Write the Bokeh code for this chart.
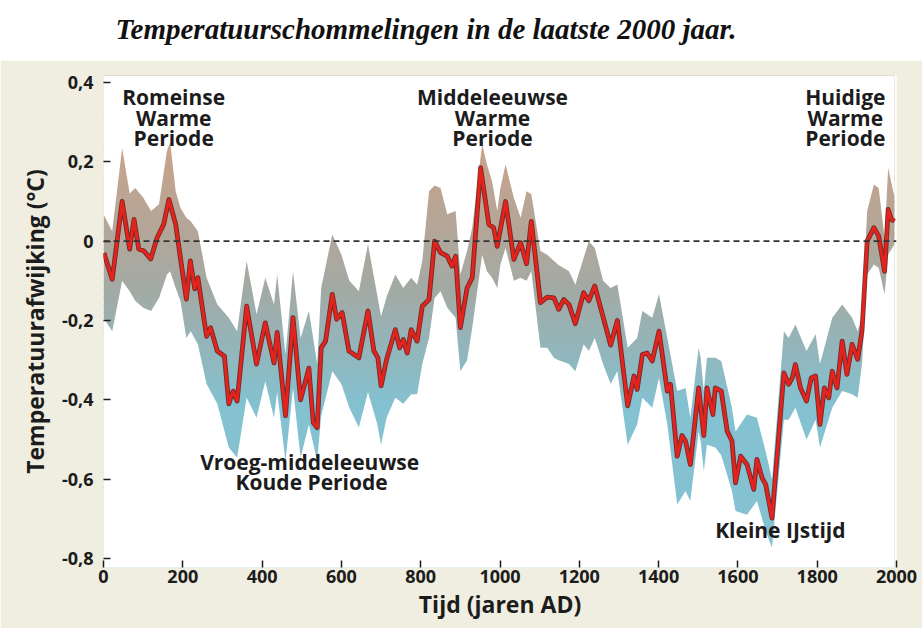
import numpy as np
from bokeh.plotting import figure
from bokeh.layouts import column
from bokeh.models import (ColumnDataSource, FixedTicker, CustomJSTickFormatter,
                          Span, Range1d, BoxAnnotation)
from bokeh.core.properties import value
from bokeh.embed import file_html
from bokeh.resources import INLINE

# ---------------- data ----------------
line_year = [1, 22, 47, 66, 77, 89, 102, 119, 135, 152, 165, 182, 194, 209, 219, 230, 238,
             260, 270, 287, 305, 316, 327, 337, 361, 386, 408, 430, 438, 459, 478, 497,
             518, 529, 539, 549, 560, 577, 588, 602, 619, 644, 667, 682, 692, 700, 714,
             736, 747, 756, 766, 776, 791, 804, 821, 835, 850, 867, 879, 888, 900, 917,
             930, 951, 972, 984, 993, 1014, 1035, 1052, 1067, 1079, 1102, 1119, 1136,
             1148, 1161, 1174, 1190, 1211, 1224, 1239, 1279, 1296, 1322, 1338, 1346,
             1359, 1371, 1384, 1401, 1422, 1430, 1447, 1459, 1468, 1480, 1501, 1514,
             1522, 1537, 1543, 1558, 1573, 1585, 1594, 1607, 1623, 1640, 1648, 1661,
             1670, 1686, 1716, 1728, 1737, 1745, 1758, 1773, 1785, 1796, 1807, 1818,
             1829, 1838, 1850, 1863, 1875, 1888, 1902, 1913, 1926, 1943, 1955, 1970,
             1979, 1987, 1995]
line_temp = [-0.03, -0.096, 0.10, -0.02, 0.055, -0.02, -0.025, -0.045, 0.008, 0.043, 0.105,
             0.043, -0.042, -0.146, -0.05, -0.12, -0.092, -0.24, -0.218, -0.277, -0.29,
             -0.41, -0.378, -0.403, -0.164, -0.31, -0.206, -0.307, -0.23, -0.44, -0.193,
             -0.40, -0.32, -0.458, -0.47, -0.269, -0.252, -0.134, -0.197, -0.18, -0.277,
             -0.294, -0.176, -0.277, -0.294, -0.365, -0.298, -0.223, -0.269, -0.248,
             -0.282, -0.223, -0.252, -0.164, -0.147, 0.0, -0.029, -0.038, -0.063, -0.038,
             -0.218, -0.118, -0.092, 0.185, 0.042, 0.034, -0.013, 0.10, -0.046, -0.004,
             -0.057, 0.05, -0.155, -0.141, -0.143, -0.172, -0.147, -0.16, -0.208, -0.13,
             -0.15, -0.113, -0.262, -0.20, -0.415, -0.34, -0.374, -0.286, -0.282, -0.302,
             -0.227, -0.378, -0.361, -0.542, -0.49, -0.504, -0.563, -0.37, -0.49, -0.37,
             -0.437, -0.37, -0.378, -0.479, -0.504, -0.609, -0.542, -0.563, -0.626, -0.55,
             -0.597, -0.613, -0.698, -0.332, -0.361, -0.345, -0.311, -0.37, -0.403,
             -0.345, -0.34, -0.462, -0.37, -0.395, -0.328, -0.37, -0.252, -0.336, -0.26,
             -0.298, -0.227, 0.0, 0.034, 0.013, -0.076, 0.08, 0.055, 0.05]

band_year = [0, 22, 47, 66, 80, 100, 120, 140, 160, 168, 182, 194, 209, 220, 238, 260, 287,
             316, 337, 361, 386, 408, 430, 438, 459, 478, 497, 518, 539, 549, 577, 600,
             620, 644, 667, 690, 700, 714, 736, 756, 776, 791, 804, 821, 835, 850, 867,
             888, 900, 917, 930, 955, 967, 980, 993, 1001, 1014, 1035, 1052, 1067, 1079,
             1102, 1119, 1136, 1148, 1174, 1190, 1211, 1224, 1239, 1260, 1279, 1296, 1322,
             1346, 1359, 1384, 1401, 1422, 1447, 1468, 1480, 1501, 1506, 1514, 1522, 1543,
             1558, 1585, 1594, 1623, 1648, 1670, 1686, 1716, 1728, 1745, 1773, 1796, 1807,
             1838, 1863, 1888, 1902, 1913, 1926, 1943, 1955, 1970, 1979, 1995]
band_upper = [0.068, 0.025, 0.235, 0.12, 0.134, 0.11, 0.076, 0.093, 0.227, 0.25, 0.126,
              0.084, 0.059, 0.05, 0.025, -0.092, -0.16, -0.193, -0.227, -0.05, -0.185,
              -0.092, -0.16, -0.084, -0.286, -0.076, -0.244, -0.176, -0.31, -0.118, 0.017,
              -0.034, -0.10, -0.126, -0.008, -0.134, -0.19, -0.14, -0.084, -0.118, -0.092,
              -0.11, -0.05, 0.126, 0.14, 0.134, 0.068, 0.076, -0.084, -0.025, 0.034, 0.244,
              0.193, 0.151, 0.076, 0.134, 0.193, 0.109, 0.059, 0.126, 0.118, -0.025,
              -0.034, -0.05, -0.06, -0.076, -0.11, -0.042, 0.0, -0.017, -0.10, -0.118,
              -0.109, -0.269, -0.244, -0.176, -0.193, -0.134, -0.244, -0.378, -0.37,
              -0.445, -0.269, -0.294, -0.378, -0.294, -0.294, -0.302, -0.42, -0.48, -0.437,
              -0.445, -0.53, -0.60, -0.227, -0.244, -0.21, -0.277, -0.235, -0.31, -0.193,
              -0.16, -0.193, -0.227, -0.193, 0.076, 0.143, 0.134, 0.008, 0.185, 0.11]
band_lower = [-0.194, -0.227, -0.10, -0.126, -0.15, -0.168, -0.176, -0.143, -0.084, -0.076,
              -0.118, -0.15, -0.244, -0.227, -0.26, -0.36, -0.41, -0.52, -0.546, -0.395,
              -0.445, -0.353, -0.445, -0.38, -0.555, -0.37, -0.546, -0.462, -0.555, -0.44,
              -0.328, -0.36, -0.42, -0.47, -0.38, -0.46, -0.513, -0.445, -0.395, -0.41,
              -0.386, -0.386, -0.31, -0.244, -0.143, -0.126, -0.168, -0.193, -0.328, -0.30,
              -0.218, -0.034, -0.076, -0.092, -0.118, -0.059, -0.017, -0.10, -0.092, -0.10,
              -0.076, -0.269, -0.269, -0.294, -0.30, -0.31, -0.328, -0.26, -0.277, -0.244,
              -0.31, -0.36, -0.328, -0.513, -0.462, -0.395, -0.42, -0.345, -0.462, -0.664,
              -0.63, -0.655, -0.48, -0.504, -0.58, -0.513, -0.52, -0.54, -0.63, -0.68,
              -0.69, -0.655, -0.73, -0.773, -0.45, -0.45, -0.42, -0.50, -0.45, -0.52,
              -0.42, -0.378, -0.386, -0.395, -0.31, -0.084, -0.059, -0.067, -0.134, -0.034,
              -0.008]

x_ticks = [0, 200, 400, 600, 800, 1000, 1200, 1400, 1600, 1800, 2000]
y_ticks = [-0.8, -0.6, -0.4, -0.2, 0.0, 0.2, 0.4]

title_text = "Temperatuurschommelingen in de laatste 2000 jaar."
x_label = "Tijd (jaren AD)"
y_label = "Temperatuurafwijking (°C)"

# period labels: (text, year, temperature at baseline)
period_labels = [
    ("Romeinse", 177, 0.363), ("Warme", 177, 0.311), ("Periode", 177, 0.259),
    ("Middeleeuwse", 981, 0.363), ("Warme", 981, 0.311), ("Periode", 981, 0.259),
    ("Huidige", 1871, 0.363), ("Warme", 1871, 0.311), ("Periode", 1871, 0.259),
    ("Vroeg-middeleeuwse", 520, -0.557), ("Koude Periode", 525, -0.608),
    ("Kleine IJstijd", 1707, -0.727),
]

# ---------------- styling ----------------
FONT = "Open Sans"
DARK = "#1c1c1c"
PANEL = "#efeee0"
Y0, Y1 = -0.8227, 0.4176
FRAME_W, FRAME_H = 793, 492

# ---------------- title strip ----------------
# (its frame gets aligned with the chart frame below, so its x range is in pixels
#  measured from the chart frame's left edge)
tf = figure(width=922, height=60, x_range=Range1d(0, FRAME_W), y_range=Range1d(0, 60),
            x_axis_type=None, y_axis_type=None, title=None,
            toolbar_location=None, output_backend="svg",
            min_border=0, min_border_left=0, min_border_right=0,
            min_border_top=0, min_border_bottom=0, outline_line_color=None)
tf.grid.visible = False
tf.background_fill_color = "white"
tf.border_fill_color = "white"
tf.text(x=[12], y=[32], text=[title_text], text_font=value("Liberation Serif"),
        text_font_style="bold italic", text_font_size="29px",
        text_baseline="alphabetic", text_align="left", text_color="#111111")

# ---------------- main chart ----------------
p = figure(frame_width=FRAME_W, frame_height=FRAME_H,
           x_range=Range1d(0, 2000), y_range=Range1d(Y0, Y1),
           toolbar_location=None, output_backend="svg",
           min_border_left=103, min_border_right=26, min_border_top=15,
           min_border_bottom=61, outline_line_color=None)
p.background_fill_color = "white"
p.border_fill_color = PANEL
p.grid.visible = False

by = np.array(band_year, dtype=float)
bu = np.array(band_upper)
bl = np.array(band_lower)

# vertical colour gradient (tan at top, grey middle, teal bottom) as background strips
stops_y = [0.22, -0.12, -0.42]
stops_c = [(200, 163, 140), (163, 170, 164), (132, 194, 210)]
edges = np.linspace(Y0, Y1, 63)
for a, b in zip(edges[:-1], edges[1:]):
    m = 0.5 * (a + b)
    if m >= stops_y[0]:
        c = stops_c[0]
    elif m >= stops_y[1]:
        t = (stops_y[0] - m) / (stops_y[0] - stops_y[1])
        c = tuple(int(stops_c[0][k] + t * (stops_c[1][k] - stops_c[0][k])) for k in range(3))
    elif m >= stops_y[2]:
        t = (stops_y[1] - m) / (stops_y[1] - stops_y[2])
        c = tuple(int(stops_c[1][k] + t * (stops_c[2][k] - stops_c[1][k])) for k in range(3))
    else:
        c = stops_c[2]
    col = "#%02x%02x%02x" % c
    p.add_layout(BoxAnnotation(left=band_year[0], right=band_year[-1], bottom=a,
                               top=b + 0.004, fill_color=col, fill_alpha=1.0,
                               line_color=None, level="underlay"))

# white masks outside the uncertainty band
p.varea(x=by, y1=bu, y2=np.full(len(by), Y1), fill_color="white", fill_alpha=1.0)
p.varea(x=by, y1=np.full(len(by), Y0), y2=bl, fill_color="white", fill_alpha=1.0)

# zero line
p.add_layout(Span(location=0, dimension="width", line_color="#333333",
                  line_width=1.6, line_dash="6 4"))

# reconstruction line
src = ColumnDataSource(dict(x=line_year, y=line_temp))
p.line("x", "y", source=src, line_color="#6b1414", line_width=4.8, line_alpha=0.85,
       line_join="round")
p.line("x", "y", source=src, line_color="#e3231c", line_width=3.0, line_join="round")

# period labels
lab = ColumnDataSource(dict(t=[l[0] for l in period_labels],
                            x=[l[1] for l in period_labels],
                            y=[l[2] for l in period_labels]))
p.text("x", "y", text="t", source=lab, text_font=value(FONT), text_font_style="bold",
       text_font_size="21px", text_color=DARK, text_align="center",
       text_baseline="alphabetic")

# axes
for ax in (p.xaxis[0], p.yaxis[0]):
    ax.axis_line_color = None
    ax.major_tick_in = 7
    ax.major_tick_out = 0
    ax.minor_tick_line_color = None
    ax.major_tick_line_color = DARK
    ax.major_tick_line_width = 1.5
    ax.major_label_text_font = FONT
    ax.major_label_text_font_style = "bold"
    ax.major_label_text_font_size = "18px"
    ax.major_label_text_color = DARK
    ax.axis_label_text_font = FONT
    ax.axis_label_text_font_style = "bold"
    ax.axis_label_text_color = DARK

p.xaxis.ticker = FixedTicker(ticks=x_ticks)
p.yaxis.ticker = FixedTicker(ticks=y_ticks)
p.yaxis.formatter = CustomJSTickFormatter(code="""
    if (Math.abs(tick) < 1e-9) { return '0'; }
    return tick.toFixed(1).replace('.', ',');
""")
p.xaxis.major_label_standoff = 2
p.yaxis.major_label_standoff = 10
p.xaxis.axis_label = x_label
p.yaxis.axis_label = y_label
p.xaxis.axis_label_text_font_size = "23px"
p.yaxis.axis_label_text_font_size = "23px"
p.xaxis.axis_label_standoff = 2
p.yaxis.axis_label_standoff = 8

layout = column(tf, p, spacing=0)
open("out.html", "w").write(file_html(layout, INLINE))
